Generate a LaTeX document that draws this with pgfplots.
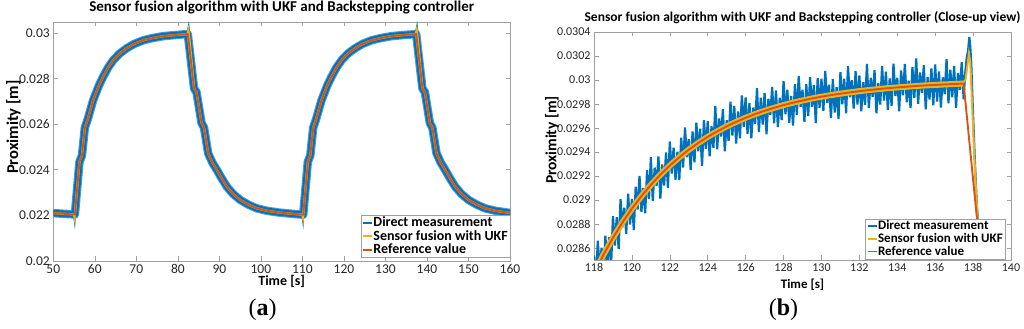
\documentclass[border=0pt]{standalone}
\usepackage{pgfplots}
\pgfplotsset{compat=1.18}
\usepackage{pgfplotstable}
\usepackage{fontspec}
\setmainfont{Carlito}
\newfontfamily\capfont{Liberation Serif}
\definecolor{mblue}{rgb}{0,0.447,0.741}
\definecolor{lblue}{rgb}{0.30,0.62,0.85}
\definecolor{myellow}{rgb}{0.929,0.694,0.125}
\definecolor{mred}{rgb}{0.85,0.325,0.098}
\definecolor{frame}{RGB}{160,160,160}
\definecolor{txt}{RGB}{38,38,38}

% Panel (a) reference value
\pgfplotstableread{
t v
50.0 0.02210
52.5 0.02207
55.2 0.02204
56.3 0.02435
56.9 0.02462
57.6 0.02585
58.3 0.02622
59.6 0.02705
61.0 0.02770
62.0 0.02808
63.2 0.02848
64.5 0.02882
66.0 0.02910
67.7 0.02933
69.5 0.02952
71.7 0.02968
74.0 0.02978
76.5 0.02986
79.5 0.02991
82.4 0.02995
83.9 0.02757
84.5 0.02740
85.7 0.02605
86.3 0.02585
87.3 0.02472
88.3 0.02432
89.4 0.02399
90.5 0.02364
91.8 0.02326
93.3 0.02294
95.0 0.02268
97.0 0.02247
99.0 0.02231
101.5 0.02220
104.6 0.02212
107.5 0.02207
110.2 0.02203
111.3 0.02435
111.9 0.02462
112.6 0.02585
113.3 0.02622
114.6 0.02705
116.0 0.02770
117.0 0.02808
118.2 0.02848
119.5 0.02882
121.0 0.02910
122.7 0.02933
124.5 0.02952
126.7 0.02968
129.0 0.02978
131.5 0.02986
134.5 0.02991
137.4 0.02995
138.9 0.02757
139.5 0.02740
140.7 0.02605
141.3 0.02585
142.3 0.02472
143.3 0.02432
144.4 0.02399
145.5 0.02364
146.8 0.02326
148.3 0.02294
150.0 0.02268
152.0 0.02247
154.0 0.02231
156.5 0.02220
160.0 0.02211
}\refA

% Panel (b) reference value
\pgfplotstableread{
t v
118.0 0.028388
118.5 0.028544
119.0 0.028685
119.5 0.028813
120.0 0.028928
120.5 0.029032
121.0 0.029126
121.5 0.029211
122.0 0.029287
122.5 0.029356
123.0 0.029419
123.5 0.029475
124.0 0.029526
124.5 0.029572
125.0 0.029614
125.5 0.029651
126.0 0.029685
126.5 0.029716
127.0 0.029743
127.5 0.029768
128.0 0.029791
128.5 0.029811
129.0 0.029829
129.5 0.029846
130.0 0.029861
130.5 0.029874
131.0 0.029886
131.5 0.029897
132.0 0.029907
132.5 0.029916
133.0 0.029924
133.5 0.029932
134.0 0.029938
134.5 0.029944
135.0 0.029950
135.5 0.029955
136.0 0.029959
136.5 0.029963
137.0 0.029967
137.5 0.029970
}\refB

% Panel (b) direct measurement
\pgfplotstableread{
t v
118.0 0.028538
118.1 0.028299
118.2 0.028660
118.3 0.028422
118.4 0.028603
118.5 0.028354
118.6 0.028702
118.7 0.028450
118.8 0.028689
118.9 0.028447
119.0 0.028865
119.1 0.028621
119.2 0.028856
119.3 0.028592
119.4 0.029007
119.5 0.028773
119.6 0.028936
119.7 0.028719
119.8 0.029052
119.9 0.028795
120.0 0.029008
120.1 0.028749
120.2 0.029110
120.3 0.028920
120.4 0.029201
120.5 0.028902
120.6 0.029101
120.7 0.028890
120.8 0.029248
120.9 0.029007
121.0 0.029356
121.1 0.028993
121.2 0.029270
121.3 0.029117
121.4 0.029364
121.5 0.029011
121.6 0.029296
121.7 0.029121
121.8 0.029397
121.9 0.029102
122.0 0.029487
122.1 0.029221
122.2 0.029435
122.3 0.029168
122.4 0.029402
122.5 0.029166
122.6 0.029519
122.7 0.029271
122.8 0.029604
122.9 0.029356
123.0 0.029509
123.1 0.029250
123.2 0.029571
123.3 0.029313
123.4 0.029644
123.5 0.029405
123.6 0.029595
123.7 0.029285
123.8 0.029666
123.9 0.029426
124.0 0.029656
124.1 0.029365
124.2 0.029614
124.3 0.029434
124.4 0.029783
124.5 0.029422
124.6 0.029680
124.7 0.029529
124.8 0.029757
124.9 0.029406
125.0 0.029664
125.1 0.029491
125.2 0.029819
125.3 0.029536
125.4 0.029784
125.5 0.029471
125.6 0.029738
125.7 0.029515
125.8 0.029871
125.9 0.029608
126.0 0.029855
126.1 0.029551
126.2 0.029807
126.3 0.029514
126.4 0.029770
126.5 0.029636
126.6 0.029931
126.7 0.029567
126.8 0.029852
126.9 0.029628
127.0 0.029893
127.1 0.029548
127.2 0.029843
127.3 0.029708
127.4 0.029943
127.5 0.029638
127.6 0.029913
127.7 0.029607
127.8 0.029852
127.9 0.029666
128.0 0.029991
128.1 0.029715
128.2 0.029919
128.3 0.029643
128.4 0.029867
128.5 0.029621
128.6 0.029965
128.7 0.029708
128.8 0.030032
128.9 0.029775
129.0 0.029919
129.1 0.029652
129.2 0.029966
129.3 0.029699
129.4 0.030023
129.5 0.029776
129.6 0.029959
129.7 0.029642
129.8 0.030015
129.9 0.029768
130.0 0.030011
130.1 0.029744
130.2 0.030076
130.3 0.029809
130.4 0.029961
130.5 0.029684
130.6 0.030006
130.7 0.029729
130.8 0.029941
130.9 0.029674
131.0 0.030066
131.1 0.029798
131.2 0.030010
131.3 0.029723
131.4 0.030115
131.5 0.029857
131.6 0.029999
131.7 0.029761
131.8 0.030073
131.9 0.029795
132.0 0.030037
132.1 0.029739
132.2 0.029981
132.3 0.029792
132.4 0.030134
132.5 0.029766
132.6 0.030018
132.7 0.029859
132.8 0.030081
132.9 0.029722
133.0 0.029974
133.1 0.029796
133.2 0.030117
133.3 0.029829
133.4 0.030070
133.5 0.029752
133.6 0.030013
133.7 0.029784
133.8 0.030136
133.9 0.029867
134.0 0.030018
134.1 0.029739
134.2 0.030080
134.3 0.029872
134.4 0.030133
134.5 0.029814
134.6 0.029995
134.7 0.029766
134.8 0.030108
134.9 0.029849
135.0 0.030180
135.1 0.029801
135.2 0.030062
135.3 0.029893
135.4 0.030124
135.5 0.029755
135.6 0.030026
135.7 0.029837
135.8 0.030097
135.9 0.029788
136.0 0.030129
136.1 0.029820
136.2 0.030071
136.3 0.029771
136.4 0.030022
136.5 0.029883
136.6 0.030174
136.7 0.029805
136.8 0.030086
136.9 0.029856
137.0 0.030117
137.1 0.029768
137.2 0.030058
137.3 0.029919
137.4 0.030149
137.5 0.029840
137.58 0.030050
137.66 0.030180
137.74 0.030250
137.8 0.030358
137.84 0.030300
137.9 0.030150
138.0 0.029700
138.1 0.029300
138.2 0.028950
138.3 0.028750
138.4 0.028600
138.5 0.028450
138.7 0.028200
}\measB

\pgfplotsset{
  mstyle/.style={
    scale only axis,
    axis line style={frame},
    every tick/.style={frame, line width=0.6bp},
    major tick length=4.5bp,
    tick align=inside,
    ticklabel style={text=txt},
    /pgf/number format/assume math mode=true,
    scaled y ticks=false,
    yticklabel style={/pgf/number format/fixed, /pgf/number format/precision=4},
    legend cell align=left,
    legend image code/.code={\draw[#1] (0bp,0bp) -- (9bp,0bp);},
    legend style={draw=frame, fill=white, inner xsep=1.5bp, inner ysep=0.8bp,
      nodes={inner xsep=0.6bp, inner ysep=1.1bp, text=black}},
    title style={inner sep=0pt, anchor=south, at={(0.5,1)}},
  }
}

\begin{document}
\begin{tikzpicture}
\useasboundingbox (0,0) rectangle (1024bp,329bp);

% ---------------- Panel (a) ----------------
\begin{axis}[mstyle,
  at={(53.3bp,68bp)}, anchor=south west,
  width=456.7bp, height=239bp,
  xmin=50, xmax=160, ymin=0.02, ymax=0.03048,
  xtick={50,60,...,160},
  ytick={0.02,0.022,0.024,0.026,0.028,0.03},
  ticklabel style={font=\fontsize{13.5bp}{15bp}\selectfont},
  title={\bfseries Sensor fusion algorithm with UKF and Backstepping controller},
  title style={font=\fontsize{15bp}{17bp}\selectfont, yshift=2bp},
  xlabel={\bfseries Time [s]},
  xlabel style={font=\fontsize{14bp}{16bp}\selectfont, at={(axis description cs:0.5,0)}, anchor=center, yshift=-20bp},
  ylabel={\bfseries Proximity [m]},
  ylabel style={font=\fontsize{16.5bp}{18bp}\selectfont, at={(axis description cs:-0.0871,0.56)}, anchor=center},
  legend style={at={(1,0)}, anchor=south east, yshift=3.5bp,
    font=\fontsize{14bp}{16bp}\selectfont\bfseries},
]
\addlegendimage{mblue, line width=1.6bp}
\addlegendentry{Direct measurement}
\addlegendimage{myellow, line width=1.6bp}
\addlegendentry{Sensor fusion with UKF}
\addlegendimage{mred, line width=1.6bp}
\addlegendentry{Reference value}
% measurement band
\addplot[forget plot, lblue, line width=8.5bp, line join=round, line cap=round] table[x=t,y=v] {\refA};
\addplot[forget plot, mblue, line width=6.5bp, line join=round, line cap=round] table[x=t,y=v] {\refA};
% measurement spikes
\addplot[forget plot, mblue, line width=1.6bp] coordinates {(54.9,0.02205) (55.15,0.02172) (55.5,0.02260) (56.3,0.02440)};
\addplot[forget plot, mblue, line width=1.6bp] coordinates {(82.2,0.02995) (82.6,0.03030) (82.9,0.02980) (84.1,0.02760)};
\addplot[forget plot, mblue, line width=1.6bp] coordinates {(109.9,0.02203) (110.15,0.02172) (110.5,0.02260) (111.3,0.02440)};
\addplot[forget plot, mblue, line width=1.6bp] coordinates {(137.2,0.02995) (137.6,0.03030) (137.9,0.02980) (139.1,0.02760)};
% UKF
\addplot[forget plot, myellow, line width=2.3bp] table[x=t,y=v] {\refA};
\addplot[forget plot, myellow, line width=1.5bp] coordinates {(54.9,0.02205) (55.15,0.02180) (55.4,0.02250) (56.3,0.02438)};
\addplot[forget plot, myellow, line width=1.5bp] coordinates {(82.2,0.02995) (82.55,0.03020) (82.8,0.02985) (84.0,0.02757)};
\addplot[forget plot, myellow, line width=1.5bp] coordinates {(109.9,0.02203) (110.15,0.02180) (110.4,0.02250) (111.3,0.02438)};
\addplot[forget plot, myellow, line width=1.5bp] coordinates {(137.2,0.02995) (137.55,0.03020) (137.8,0.02985) (139.0,0.02757)};
% reference
\addplot[forget plot, mred, line width=1.9bp] table[x=t,y=v] {\refA};
\end{axis}

% ---------------- Panel (b) ----------------
\begin{axis}[mstyle,
  at={(594bp,69bp)}, anchor=south west,
  width=417bp, height=228bp,
  xmin=118, xmax=140, ymin=0.0285, ymax=0.0304,
  xtick={118,120,...,140},
  ytick={0.0286,0.0288,0.029,0.0292,0.0294,0.0296,0.0298,0.03,0.0302,0.0304},
  ticklabel style={font=\fontsize{12bp}{14bp}\selectfont},
  title={\bfseries Sensor fusion algorithm with UKF and Backstepping controller (Close-up view)},
  title style={font=\fontsize{13.5bp}{15bp}\selectfont, yshift=2.5bp},
  xlabel={\bfseries Time [s]},
  xlabel style={font=\fontsize{13bp}{15bp}\selectfont, at={(axis description cs:0.5,0)}, anchor=center, yshift=-25bp},
  ylabel={\bfseries Proximity [m]},
  ylabel style={font=\fontsize{15.5bp}{17bp}\selectfont, at={(axis description cs:-0.1007,0.526)}, anchor=center},
  legend style={at={(1,0)}, anchor=south east, xshift=-6bp, yshift=1bp,
    font=\fontsize{13bp}{15bp}\selectfont\bfseries},
]
\addlegendimage{mblue, line width=1.6bp}
\addlegendentry{Direct measurement}
\addlegendimage{myellow, line width=1.6bp}
\addlegendentry{Sensor fusion with UKF}
\addlegendimage{mred, line width=1.6bp}
\addlegendentry{Reference value}
\addplot[forget plot, mblue, line width=2.2bp] table[x=t,y=v] {\measB};
\addplot[forget plot, myellow, line width=6bp, line join=round] table[x=t,y=v] {\refB};
\addplot[forget plot, myellow, line width=2bp] coordinates {(137.4,0.029969) (137.6,0.030000) (137.7,0.030120) (137.78,0.030219) (137.85,0.030150) (138.0,0.029600) (138.1,0.029250) (138.2,0.028950) (138.3,0.028700) (138.45,0.028400)};
\addplot[forget plot, mred, line width=1.9bp] table[x=t,y=v] {\refB};
\addplot[forget plot, mred, line width=1.9bp] coordinates {(137.5,0.029970) (139.0,0.027570)};
\end{axis}

\node[font=\capfont\fontsize{24bp}{28bp}\selectfont] at (262.5bp,19bp) {(\textbf{a})};
\node[font=\capfont\fontsize{24bp}{28bp}\selectfont] at (783.5bp,19bp) {(\textbf{b})};
\end{tikzpicture}
\end{document}
